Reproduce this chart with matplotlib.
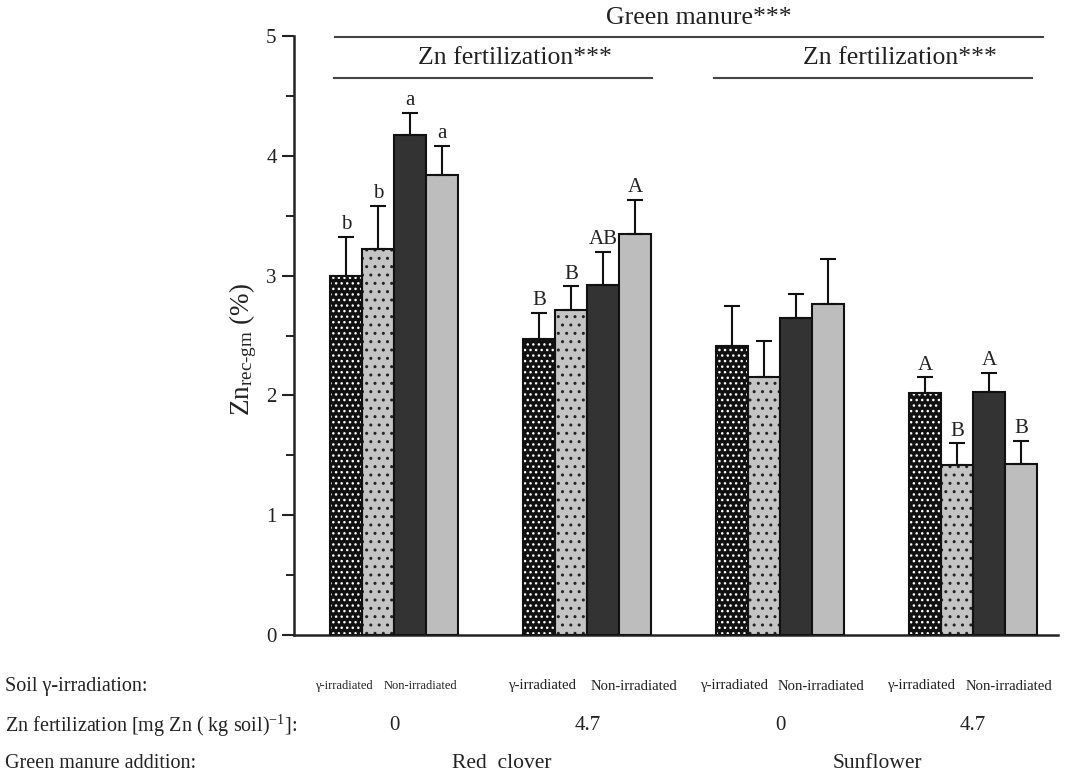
import matplotlib
matplotlib.use("Agg")
import matplotlib.pyplot as plt
import matplotlib.transforms as mtransforms
import numpy as np

plt.rcParams['font.family'] = ['Liberation Serif', 'DejaVu Serif']
plt.rcParams['mathtext.fontset'] = 'custom'
plt.rcParams['mathtext.rm'] = 'Liberation Serif'
plt.rcParams['mathtext.it'] = 'Liberation Serif:italic'
plt.rcParams['hatch.linewidth'] = 1.0

# ---- data ----
groups = ['Red clover 0', 'Red clover 4.7', 'Sunflower 0', 'Sunflower 4.7']
zn_levels = ['0', '4.7', '0', '4.7']
manures = ['Red  clover', 'Sunflower']
treatments = ['γ-irradiated A', 'γ-irradiated B', 'Non-irradiated A', 'Non-irradiated B']

vals_black = [3.00, 2.47, 2.41, 2.02]
vals_dotgray = [3.22, 2.71, 2.15, 1.42]
vals_dark = [4.17, 2.92, 2.65, 2.03]
vals_light = [3.84, 3.35, 2.76, 1.43]

err_black = [0.32, 0.22, 0.34, 0.13]
err_dotgray = [0.36, 0.20, 0.30, 0.18]
err_dark = [0.19, 0.28, 0.20, 0.16]
err_light = [0.24, 0.28, 0.38, 0.19]

letters_black = ['b', 'B', '', 'A']
letters_dotgray = ['b', 'B', '', 'B']
letters_dark = ['a', 'AB', '', 'A']
letters_light = ['a', 'A', '', 'B']

# ---- figure ----
fig = plt.figure(figsize=(10.67, 7.72), dpi=100)
ax = fig.add_axes([294/1067, 1-635/772, (1058-294)/1067, (635-36)/772])

x = np.arange(len(groups))
w = 0.166
offsets = [-1.5*w, -0.5*w, 0.5*w, 1.5*w]
series = [
    (vals_black, err_black, letters_black, '#111111', 'white', '...'),
    (vals_dotgray, err_dotgray, letters_dotgray, '#c4c4c4', '#222222', '..'),
    (vals_dark, err_dark, letters_dark, '#333333', None, None),
    (vals_light, err_light, letters_light, '#bdbdbd', None, None),
]
for (vals, errs, lets, fc, hc, hatch), off in zip(series, offsets):
    xs = x + off
    if hatch:
        ax.bar(xs, vals, w, color=fc, edgecolor=hc, hatch=hatch, linewidth=0, zorder=2)
        ax.bar(xs, vals, w, fill=False, edgecolor='#111111', linewidth=1.5, zorder=3)
    else:
        ax.bar(xs, vals, w, color=fc, edgecolor='#111111', linewidth=1.5, zorder=3)
    ax.errorbar(xs, vals, yerr=[np.zeros(len(errs)), errs], fmt='none', ecolor='#111111',
                elinewidth=1.5, capsize=6, capthick=1.5, zorder=4)
    for xi, v, e, l in zip(xs, vals, errs, lets):
        if l:
            ax.annotate(l, (xi, v + e), xytext=(0, 2), textcoords='offset points',
                        ha='center', va='bottom', fontsize=15, color='#222222')

ax.set_xlim(-0.52, 3.44)
ax.set_ylim(0, 5)
ax.set_yticks([0, 1, 2, 3, 4, 5])
ax.set_yticks([0.5, 1.5, 2.5, 3.5, 4.5], minor=True)
ax.set_xticks([])
ax.tick_params(axis='y', which='major', length=9, width=1.5, labelsize=15, colors='#222222')
ax.tick_params(axis='y', which='minor', length=6, width=1.2)
for s in ['top', 'right']:
    ax.spines[s].set_visible(False)
for s in ['left', 'bottom']:
    ax.spines[s].set_linewidth(1.8)
    ax.spines[s].set_color('#222222')

# significance annotations
ax.plot([-0.308, 3.36], [4.995, 4.995], color='#444444', lw=1.5, clip_on=False)
ax.text(1.578, 5.15, 'Green manure***', ha='center', va='center', fontsize=18.5, color='#222222')
ax.plot([-0.313, 1.334], [4.65, 4.65], color='#444444', lw=1.5, clip_on=False)
ax.text(0.624, 4.82, 'Zn fertilization***', ha='center', va='center', fontsize=18.5, color='#222222')
ax.plot([1.655, 3.303], [4.65, 4.65], color='#444444', lw=1.5, clip_on=False)
ax.text(2.619, 4.82, 'Zn fertilization***', ha='center', va='center', fontsize=18.5, color='#222222')

# y label
fig.text(243/1067, 1-350/772, r'Zn$_{\mathregular{rec‐gm}}$ (%)', rotation=90,
         ha='center', va='center', fontsize=19.5, color='#222222')

# bottom table
tr = mtransforms.blended_transform_factory(ax.transData, fig.transFigure)
y1, y2, y3 = 1-686/772, 1-726/772, 1-764/772
fig.text(5/1067, y1, 'Soil γ-irradiation:', ha='left', va='center', fontsize=14.5, color='#222222')
fig.text(5/1067, y2, r'Zn fertilization [mg Zn ( kg soil)$^{\mathregular{-1}}$]:', ha='left', va='center',
         fontsize=14.5, color='#222222')
fig.text(5/1067, y3, 'Green manure addition:', ha='left', va='center', fontsize=14.5, color='#222222')
gamma_off = [-0.26, -0.236, -0.241, -0.272]
non_off = [0.137, 0.241, 0.21, 0.184]
for i, gx in enumerate(x):
    fs = 9 if i == 0 else 10.6
    ax.text(gx + gamma_off[i], y1, 'γ-irradiated', transform=tr, ha='center', va='center', fontsize=fs, color='#222222')
    ax.text(gx + non_off[i], y1, 'Non-irradiated', transform=tr, ha='center', va='center', fontsize=fs, color='#222222')
    ax.text(gx, y2, zn_levels[i], transform=tr, ha='center', va='center', fontsize=15, color='#222222')
manure_x = [0.557, 2.505]
for m, mx in zip(manures, manure_x):
    ax.text(mx, y3, m, transform=tr, ha='center', va='center', fontsize=15.5, color='#222222')

fig.savefig('out.png', dpi=100)
